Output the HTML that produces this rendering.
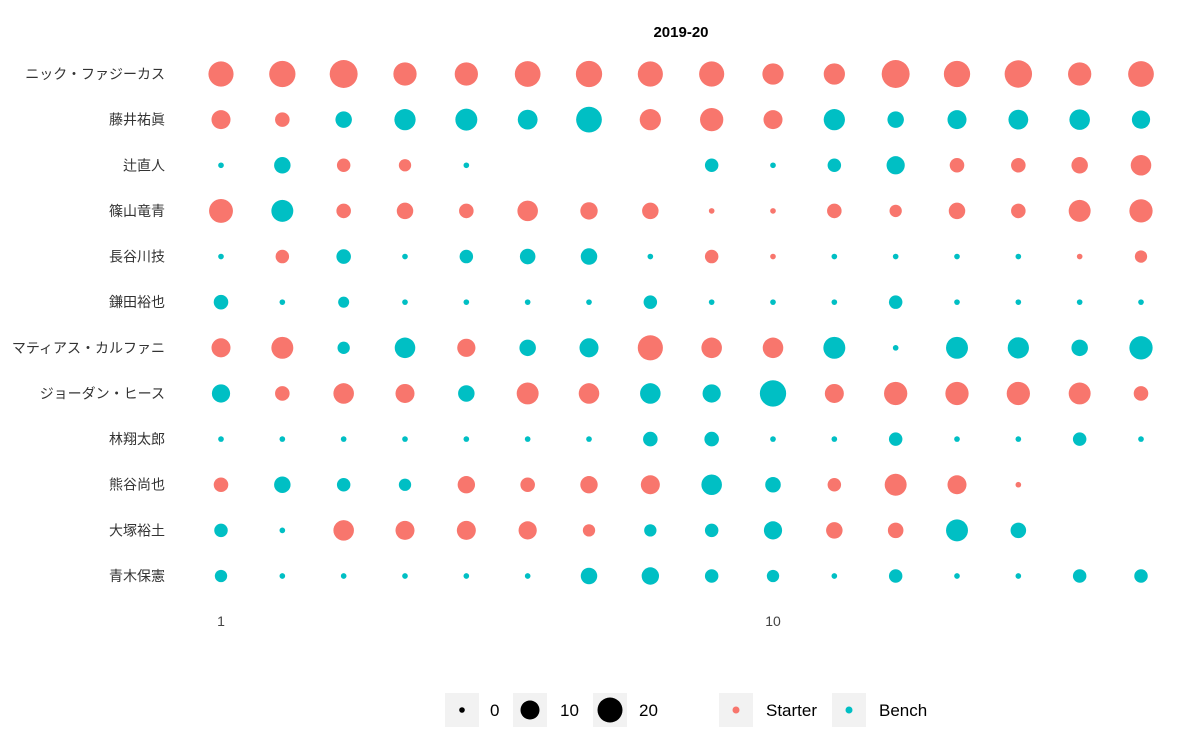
<!DOCTYPE html>
<html><head><meta charset="utf-8"><style>
body{margin:0;background:#fff;}
svg{display:block;font-family:"Liberation Sans","Noto Sans CJK JP",sans-serif;}
</style></head><body>
<svg id="chart" width="1200" height="750">
<text x="681" y="37" text-anchor="middle" font-size="15" font-weight="bold" fill="#000">2019-20</text>
<g id="rows"></g>
<g id="dots"></g>
<g id="xticks"></g>
<g font-size="17" fill="#000">
<rect x="445" y="693" width="34" height="34" fill="#f2f2f2"/>
<circle cx="462" cy="710" r="2.8" fill="#000"/>
<text x="490" y="716">0</text>
<rect x="513" y="693" width="34" height="34" fill="#f2f2f2"/>
<circle cx="530" cy="710" r="9.5" fill="#000"/>
<text x="560" y="716">10</text>
<rect x="593" y="693" width="34" height="34" fill="#f2f2f2"/>
<circle cx="610" cy="710" r="12.5" fill="#000"/>
<text x="639" y="716">20</text>
<rect x="719" y="693" width="34" height="34" fill="#f2f2f2"/>
<circle cx="736" cy="710" r="3.5" fill="#F8766D"/>
<text x="766" y="716">Starter</text>
<rect x="832" y="693" width="34" height="34" fill="#f2f2f2"/>
<circle cx="849" cy="710" r="3.5" fill="#00BFC4"/>
<text x="879" y="716">Bench</text>
</g>
</svg>
<script>
const players=["ニック・ファジーカス","藤井祐眞","辻直人","篠山竜青","長谷川技","鎌田裕也","マティアス・カルファニ","ジョーダン・ヒース","林翔太郎","熊谷尚也","大塚裕土","青木保憲"];
const games=[1,2,3,4,5,6,7,8,9,10,11,12,13,14,15,16];
const xTickLabels=[1,10];
const values=[
[20,22,25,17,17,21,22,20,20,14,14,25,22,24,17,21],
[11,6,8,14,15,12,21,14,17,11,14,8,11,12,13,10],
[0,8,5,4,0,null,null,null,5,0,5,10,6,6,8,13],
[18,15,6,8,6,13,9,8,0,0,6,4,8,6,15,17],
[0,5,6,0,5,7,8,0,5,0,0,0,0,0,0,4],
[6,0,3,0,0,0,0,5,0,0,0,5,0,0,0,0],
[11,15,4,13,10,8,11,20,13,13,15,0,15,14,8,17],
[10,6,13,11,8,15,13,13,10,22,11,17,17,17,15,6],
[0,0,0,0,0,0,0,6,6,0,0,5,0,0,5,0],
[6,8,5,4,9,6,9,11,13,7,5,15,11,0,null,null],
[5,0,13,11,11,10,4,4,5,10,8,7,15,7,null,null],
[4,0,0,0,0,0,8,9,5,4,0,5,0,0,5,5]];
const roles=[
"SSSSSSSSSSSSSSSS",
"SSBBBBBSSSBBBBBB",
"BBSSB---BBBBSSSS",
"SBSSSSSSSSSSSSSS",
"BSBBBBBBSSBBBBSS",
"BBBBBBBBBBBBBBBB",
"SSBBSBBSSSBBBBBB",
"BSSSBSSBBBSSSSSS",
"BBBBBBBBBBBBBBBB",
"SBBBSSSSBBSSSS--",
"BBSSSSSBBBSSBB--",
"BBBBBBBBBBBBBBBB"];
const colors={S:"#F8766D",B:"#00BFC4"};
const xScale=g=>221+(g-1)*(773-221)/9;
const yScale=i=>74+i*(576-74)/11;
const rScale=v=>Math.sqrt(8+7.5*v);
const NS="http://www.w3.org/2000/svg";
const rowsG=document.getElementById("rows"),dotsG=document.getElementById("dots"),xG=document.getElementById("xticks");
players.forEach((p,i)=>{
  const t=document.createElementNS(NS,"text");
  t.setAttribute("x",165);t.setAttribute("y",yScale(i)+5);
  t.setAttribute("text-anchor","end");t.setAttribute("font-size","14");t.setAttribute("fill","#333");
  t.textContent=p;
  
  
  rowsG.appendChild(t);
  games.forEach((g,j)=>{
    const v=values[i][j];
    if(v===null)return;
    const c=document.createElementNS(NS,"circle");
    c.setAttribute("cx",xScale(g));c.setAttribute("cy",yScale(i));
    c.setAttribute("r",rScale(v));c.setAttribute("fill",colors[roles[i][j]]);
    
    
    dotsG.appendChild(c);
  });
});
xTickLabels.forEach(g=>{
  const t=document.createElementNS(NS,"text");
  t.setAttribute("x",xScale(g));t.setAttribute("y",626);
  t.setAttribute("text-anchor","middle");t.setAttribute("font-size","14");t.setAttribute("fill","#444");
  t.textContent=g;
  
  
  xG.appendChild(t);
});
</script>
</body></html>
